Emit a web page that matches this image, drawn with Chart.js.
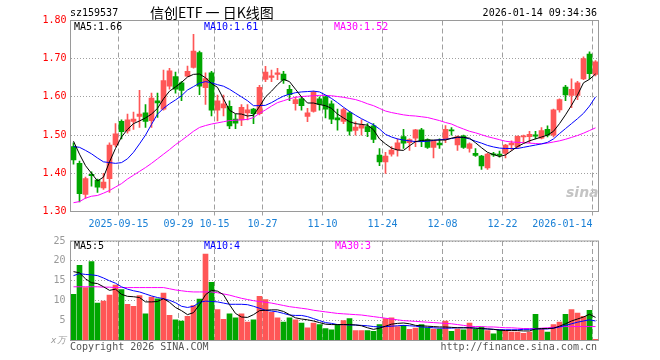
<!DOCTYPE html>
<html>
<head>
<meta charset="utf-8">
<script src="https://cdn.jsdelivr.net/npm/chart.js@4.4.1/dist/chart.umd.min.js"></script>
<style>
  html, body { margin: 0; padding: 0; background: #fff; }
  #wrap { position: relative; width: 660px; height: 360px; overflow: hidden; font-family: 'DejaVu Sans Mono', monospace; font-size: 10px; }
  canvas { position: absolute; left: 0; }
  #kline { top: 0; }
  #vol { top: 230px; }
  .txt { position: absolute; white-space: pre; line-height: 12px; }
  #title { font-family: 'Noto Sans CJK SC', sans-serif; font-size: 14px; line-height: 18px; }
  #sina { font-family: 'DejaVu Sans', sans-serif; font-weight: bold; font-style: italic; font-size: 14px; color: #c4c4c4; }
</style>
</head>
<body>
<div id="wrap">
  <canvas id="kline" width="660" height="236"></canvas>
  <canvas id="vol" width="660" height="130"></canvas>

  <div class="txt" style="left:70px; top:7px;">sz159537</div>
  <div class="txt" id="title" style="left:150px; top:3px;">信创ETF 一 日K线图</div>
  <div class="txt" style="right:63px; top:7px;">2026-01-14 09:34:36</div>

  <div class="txt" style="left:74px; top:21px; color:#000;">MA5:1.66</div>
  <div class="txt" style="left:204px; top:21px; color:#00f;">MA10:1.61</div>
  <div class="txt" style="left:334px; top:21px; color:#f0f;">MA30:1.52</div>

  <div class="txt" style="left:74px; top:240px; color:#000;">MA5:5</div>
  <div class="txt" style="left:204px; top:240px; color:#00f;">MA10:4</div>
  <div class="txt" style="left:335px; top:240px; color:#f0f;">MA30:3</div>

  <div class="txt" id="sina" style="left:566px; top:186px;">sina</div>

  <div class="txt" style="left:70px; top:341px; color:#555;">Copyright 2026 SINA.COM</div>
  <div class="txt" style="right:63px; top:341px; color:#555;">http://finance.sina.com.cn</div>
</div>

<script>
// trading days shown on the chart
const dates = [
  '2025-09-03','2025-09-04','2025-09-05','2025-09-08','2025-09-09','2025-09-10','2025-09-11','2025-09-12',
  '2025-09-15','2025-09-16','2025-09-17','2025-09-18','2025-09-19','2025-09-22','2025-09-23','2025-09-24',
  '2025-09-25','2025-09-26','2025-09-29','2025-09-30','2025-10-09','2025-10-10','2025-10-13','2025-10-14',
  '2025-10-15','2025-10-16','2025-10-17','2025-10-20','2025-10-21','2025-10-22','2025-10-23','2025-10-24',
  '2025-10-27','2025-10-28','2025-10-29','2025-10-30','2025-10-31','2025-11-03','2025-11-04','2025-11-05',
  '2025-11-06','2025-11-07','2025-11-10','2025-11-11','2025-11-12','2025-11-13','2025-11-14','2025-11-17',
  '2025-11-18','2025-11-19','2025-11-20','2025-11-21','2025-11-24','2025-11-25','2025-11-26','2025-11-27',
  '2025-11-28','2025-12-01','2025-12-02','2025-12-03','2025-12-04','2025-12-05','2025-12-08','2025-12-09',
  '2025-12-10','2025-12-11','2025-12-12','2025-12-15','2025-12-16','2025-12-17','2025-12-18','2025-12-19',
  '2025-12-22','2025-12-23','2025-12-24','2025-12-25','2025-12-26','2025-12-29','2025-12-30','2025-12-31',
  '2026-01-05','2026-01-06','2026-01-07','2026-01-08','2026-01-09','2026-01-12','2026-01-13','2026-01-14'
];

const tickDates = ['2025-09-15','2025-09-29','2025-10-15','2025-10-27','2025-11-10','2025-11-24','2025-12-08','2025-12-22','2026-01-14'];
const tickText  = ['2025-09-15','09-29','10-15','10-27','11-10','11-24','12-08','12-22','2026-01-14'];

const open = [
  1.470,1.426,1.345,1.397,1.382,1.362,1.386,1.474,1.536,1.511,1.536,1.549,1.558,1.538,1.590,1.568,
  1.628,1.653,1.637,1.654,1.677,1.716,1.624,1.663,1.565,1.571,1.575,1.542,1.540,1.558,1.568,1.556,
  1.646,1.651,1.659,1.660,1.620,1.582,1.595,1.549,1.562,1.595,1.600,1.582,1.545,1.536,1.558,1.512,
  1.518,1.522,1.524,1.448,1.430,1.450,1.461,1.496,1.480,1.492,1.514,1.488,1.468,1.479,1.489,1.514,
  1.474,1.498,1.465,1.452,1.445,1.414,1.451,1.450,1.452,1.474,1.470,1.495,1.496,1.501,1.492,1.515,
  1.500,1.566,1.626,1.604,1.604,1.647,1.712,1.659
];
const high = [
  1.480,1.432,1.390,1.404,1.385,1.400,1.480,1.530,1.540,1.555,1.560,1.617,1.580,1.610,1.610,1.670,
  1.675,1.665,1.640,1.681,1.764,1.720,1.663,1.667,1.605,1.605,1.590,1.555,1.580,1.580,1.570,1.630,
  1.680,1.670,1.675,1.667,1.630,1.600,1.600,1.570,1.615,1.600,1.602,1.590,1.568,1.570,1.562,1.535,
  1.540,1.530,1.530,1.465,1.455,1.470,1.490,1.515,1.490,1.515,1.518,1.490,1.485,1.490,1.525,1.520,
  1.498,1.500,1.480,1.465,1.447,1.452,1.455,1.458,1.476,1.485,1.498,1.500,1.510,1.510,1.520,1.524,
  1.568,1.595,1.630,1.647,1.641,1.705,1.718,1.695
];
const low = [
  1.424,1.325,1.334,1.366,1.350,1.358,1.350,1.470,1.490,1.505,1.515,1.520,1.520,1.520,1.546,1.565,
  1.620,1.610,1.590,1.653,1.675,1.606,1.580,1.550,1.537,1.550,1.517,1.517,1.525,1.540,1.530,1.553,
  1.640,1.640,1.645,1.635,1.590,1.565,1.565,1.535,1.560,1.565,1.545,1.530,1.513,1.530,1.500,1.500,
  1.500,1.496,1.480,1.420,1.400,1.445,1.445,1.465,1.460,1.470,1.470,1.465,1.440,1.465,1.480,1.500,
  1.460,1.465,1.455,1.444,1.410,1.410,1.444,1.442,1.440,1.460,1.465,1.480,1.480,1.490,1.490,1.495,
  1.495,1.560,1.590,1.572,1.593,1.645,1.647,1.655
];
const close = [
  1.435,1.347,1.386,1.394,1.364,1.377,1.474,1.503,1.509,1.540,1.542,1.555,1.536,1.597,1.584,1.643,
  1.668,1.620,1.617,1.667,1.720,1.628,1.648,1.565,1.590,1.582,1.524,1.531,1.573,1.566,1.556,1.625,
  1.665,1.655,1.663,1.644,1.606,1.593,1.577,1.558,1.612,1.580,1.568,1.542,1.540,1.567,1.510,1.521,
  1.527,1.509,1.489,1.430,1.445,1.461,1.480,1.479,1.488,1.514,1.483,1.468,1.485,1.474,1.515,1.511,
  1.496,1.468,1.477,1.447,1.419,1.450,1.448,1.447,1.474,1.479,1.497,1.498,1.502,1.497,1.512,1.500,
  1.566,1.593,1.605,1.620,1.637,1.700,1.661,1.692
];

const ma5 = [
  1.484,1.450,1.420,1.400,1.380,1.390,1.430,1.465,1.495,1.515,1.530,1.537,1.545,1.555,1.570,1.595,
  1.615,1.626,1.638,1.652,1.659,1.660,1.650,1.635,1.625,1.595,1.565,1.556,1.555,1.550,1.552,1.575,
  1.600,1.615,1.632,1.646,1.640,1.620,1.600,1.584,1.584,1.580,1.577,1.570,1.555,1.545,1.535,1.530,
  1.528,1.526,1.514,1.490,1.477,1.466,1.461,1.460,1.472,1.483,1.486,1.487,1.487,1.487,1.487,1.492,
  1.495,1.494,1.492,1.480,1.467,1.455,1.449,1.444,1.448,1.459,1.470,1.478,1.485,1.490,1.495,1.500,
  1.510,1.530,1.553,1.578,1.605,1.637,1.646,1.660
];
const ma10 = [
  1.470,1.468,1.460,1.451,1.440,1.430,1.428,1.426,1.428,1.438,1.455,1.477,1.500,1.528,1.555,1.570,
  1.582,1.592,1.603,1.618,1.627,1.636,1.640,1.637,1.632,1.628,1.620,1.610,1.600,1.590,1.577,1.577,
  1.578,1.585,1.594,1.602,1.607,1.611,1.613,1.614,1.615,1.613,1.605,1.596,1.585,1.573,1.562,1.552,
  1.543,1.535,1.527,1.516,1.502,1.495,1.490,1.487,1.485,1.483,1.483,1.484,1.486,1.488,1.489,1.491,
  1.494,1.494,1.490,1.484,1.479,1.473,1.469,1.466,1.465,1.465,1.465,1.468,1.471,1.474,1.477,1.481,
  1.490,1.504,1.517,1.530,1.543,1.557,1.576,1.600
];
const ma30 = [
  1.323,1.326,1.335,1.340,1.342,1.348,1.355,1.364,1.373,1.385,1.395,1.405,1.415,1.426,1.438,1.450,
  1.462,1.475,1.486,1.498,1.510,1.520,1.525,1.529,1.532,1.535,1.538,1.539,1.540,1.541,1.546,1.557,
  1.566,1.576,1.585,1.590,1.595,1.599,1.601,1.602,1.603,1.604,1.604,1.603,1.601,1.599,1.596,1.593,
  1.588,1.582,1.577,1.570,1.563,1.559,1.556,1.553,1.551,1.550,1.548,1.546,1.542,1.538,1.533,1.529,
  1.522,1.516,1.510,1.506,1.501,1.496,1.492,1.488,1.484,1.482,1.481,1.480,1.479,1.478,1.477,1.479,
  1.482,1.485,1.489,1.494,1.499,1.505,1.512,1.519
];

// volume in units of 10k lots (x万)
const volume = [
  11.6,18.9,13.3,19.8,9.4,9.9,11.4,13.9,12.8,9.1,8.6,11.3,6.7,10.9,10.5,11.9,
  6.3,5.2,4.9,6.1,8.8,10.4,21.7,14.6,7.8,5.3,6.7,5.7,6.7,4.6,5.2,11.1,
  10.3,7.1,5.7,4.6,5.7,5.2,4.4,3.2,4.4,4.0,3.0,2.7,4.0,5.0,5.5,2.5,
  2.5,2.5,2.3,4.0,5.5,5.7,3.5,3.8,2.8,3.1,4.0,3.2,2.9,2.9,4.9,2.3,
  2.9,2.7,4.4,2.8,3.4,2.5,1.7,2.7,2.4,2.1,2.1,1.8,2.1,6.6,2.8,2.1,
  4.0,4.6,6.6,7.8,6.9,6.1,7.6,0.3
];
const volMa5 = [
  17.3,17.0,15.5,14.5,14.3,13.5,12.6,12.9,11.6,11.1,11.0,10.8,9.7,9.7,9.8,10.5,
  9.6,8.3,7.5,6.5,7.0,9.0,11.5,12.6,12.4,11.5,9.0,6.8,5.9,5.8,6.5,7.5,
  7.6,7.7,7.7,7.3,6.5,5.7,5.4,5.2,4.9,4.5,4.1,4.0,4.0,4.0,4.0,3.9,
  3.7,3.2,2.8,3.1,3.6,4.1,4.3,4.4,4.2,3.8,3.7,3.6,3.5,3.4,3.4,3.3,
  3.2,3.2,3.2,3.1,3.0,2.9,2.8,2.6,2.5,2.5,2.5,2.4,2.4,2.9,3.0,3.0,
  3.1,3.6,4.2,4.9,5.4,5.9,6.6,5.8
];
const volMa10 = [
  16.3,16.8,16.6,16.5,16.3,15.7,15.0,14.4,13.5,12.9,12.5,12.2,11.7,11.2,10.8,10.5,
  10.1,9.5,8.6,8.3,8.6,9.6,9.9,9.8,9.7,9.4,9.1,9.1,9.1,9.0,8.6,8.1,
  7.6,7.4,7.2,6.8,6.4,6.3,6.3,6.0,5.5,5.0,4.5,4.3,4.0,4.0,3.9,3.9,
  3.8,3.7,3.5,3.4,3.5,3.6,3.7,3.8,3.7,3.6,3.4,3.3,3.2,3.1,3.1,3.1,
  3.2,3.2,3.2,3.1,3.0,2.9,2.8,2.7,2.7,2.7,2.7,2.8,2.8,2.9,2.9,2.9,
  3.1,3.4,3.8,4.2,4.6,4.9,5.2,4.9
];
const volMa30 = [
  13.5,13.5,13.5,13.5,13.5,13.4,13.4,13.3,13.3,13.3,13.3,13.3,13.3,13.3,13.3,13.3,
  13.0,12.7,12.5,12.3,12.2,12.2,12.2,12.2,12.0,11.7,11.4,11.0,10.6,10.3,10.0,9.8,
  9.6,9.4,9.1,8.8,8.5,8.3,8.1,7.9,7.6,7.4,7.2,7.0,6.8,6.7,6.6,6.5,
  6.4,6.2,6.0,5.8,5.6,5.4,5.2,5.0,4.9,4.8,4.7,4.6,4.5,4.4,4.3,4.2,
  4.0,3.8,3.6,3.5,3.5,3.4,3.4,3.3,3.2,3.2,3.1,3.0,3.0,3.0,3.1,3.2,
  3.3,3.4,3.5,3.5,3.5,3.5,3.5,3.5
];

const RED = '#ff5656';
const GREEN = '#00a600';
const GRID = '#a0a0a0';

Chart.defaults.font.family = "'DejaVu Sans Mono', monospace";
Chart.defaults.font.size = 10;

const upDay = close.map((c, i) => c >= open[i]);
const barColors = upDay.map((u) => (u ? RED : GREEN));
const gridIdx = tickDates.map((d) => dates.indexOf(d));

// x runs over the day index; each day is one slot, grid lines sit on a slot's left edge
function xScale(showLabels) {
  return {
    type: 'linear',
    min: -0.5,
    max: dates.length - 0.5,
    offset: false,
    border: { display: false, dash: [5, 3] },
    grid: { offset: false, color: GRID, lineWidth: 1, drawTicks: showLabels, tickLength: 4 },
    afterBuildTicks: (s) => { s.ticks = gridIdx.map((i) => ({ value: i - 0.5 })); },
    ticks: {
      display: showLabels,
      autoSkip: false,
      maxRotation: 0,
      padding: 3,
      color: '#1a80d6',
      callback: (v) => {
        const k = gridIdx.indexOf(Math.round(v + 0.5));
        if (k < 0) return '';
        const t = tickText[k];
        return k === gridIdx.length - 1 ? t + ' '.repeat(t.length) : t;
      }
    },
    afterFit: (s) => { s.height = showLabels ? 24.5 : 0; }
  };
}

const frame = {
  id: 'frame',
  afterDraw(chart) {
    const { ctx, chartArea: a } = chart;
    ctx.save();
    ctx.strokeStyle = '#9a9a9a';
    ctx.lineWidth = 1;
    ctx.strokeRect(a.left, a.top, a.right - a.left, a.bottom - a.top);
    ctx.restore();
  }
};

function maLine(values, color) {
  return {
    type: 'line',
    data: values.map((v, i) => ({ x: i, y: v })),
    borderColor: color,
    borderWidth: 1,
    pointRadius: 0,
    tension: 0,
    order: 0
  };
}

function initKline() {
  new Chart(document.getElementById('kline'), {
    type: 'bar',
    data: {
      datasets: [
        maLine(ma5, '#000000'),
        maLine(ma10, '#0000ff'),
        maLine(ma30, '#ff00ff'),
        {
          data: dates.map((d, i) => ({ x: i, y: [open[i], close[i]] })),
          backgroundColor: barColors,
          barThickness: 5,
          minBarLength: 1,
          grouped: false,
          order: 1
        },
        {
          data: dates.map((d, i) => ({ x: i, y: [low[i], high[i]] })),
          backgroundColor: barColors,
          barThickness: 1,
          grouped: false,
          order: 2
        }
      ]
    },
    options: {
      responsive: false,
      animation: false,
      events: [],
      layout: { padding: { top: 20.5, right: 61.5, left: 0, bottom: 0 } },
      plugins: { legend: { display: false }, tooltip: { enabled: false } },
      scales: {
        x: xScale(true),
        y: {
          min: 1.3,
          max: 1.8,
          border: { display: false, dash: [1, 2] },
          grid: { color: GRID, drawTicks: false },
          ticks: { stepSize: 0.1, padding: 4, color: '#ff0000', callback: (v) => v.toFixed(2) },
          afterFit: (s) => { s.width = 70.5; }
        }
      }
    },
    plugins: [frame]
  });
}

function initVolume() {
  new Chart(document.getElementById('vol'), {
    type: 'bar',
    data: {
      datasets: [
        maLine(volMa5, '#000000'),
        maLine(volMa10, '#0000ff'),
        maLine(volMa30, '#ff00ff'),
        {
          data: volume.map((v, i) => ({ x: i, y: v })),
          backgroundColor: barColors,
          barThickness: 5,
          grouped: false,
          order: 1
        }
      ]
    },
    options: {
      responsive: false,
      animation: false,
      events: [],
      layout: { padding: { top: 10.5, right: 61.5, left: 0, bottom: 19.5 } },
      plugins: { legend: { display: false }, tooltip: { enabled: false } },
      scales: {
        x: xScale(false),
        y: {
          min: 0,
          max: 25,
          border: { display: false, dash: [1, 2] },
          grid: { color: GRID, drawTicks: false },
          ticks: {
            stepSize: 5,
            padding: 5,
            color: '#999999',
            font: (ctx) => (ctx.index === 0 ? { style: 'italic', size: 9 } : { size: 10 }),
            callback: (v) => (v === 0 ? 'x万' : String(v))
          },
          afterFit: (s) => { s.width = 70.5; }
        }
      }
    },
    plugins: [frame]
  });
}

document.addEventListener('DOMContentLoaded', () => {
  initKline();
  initVolume();
});
</script>
</body>
</html>
